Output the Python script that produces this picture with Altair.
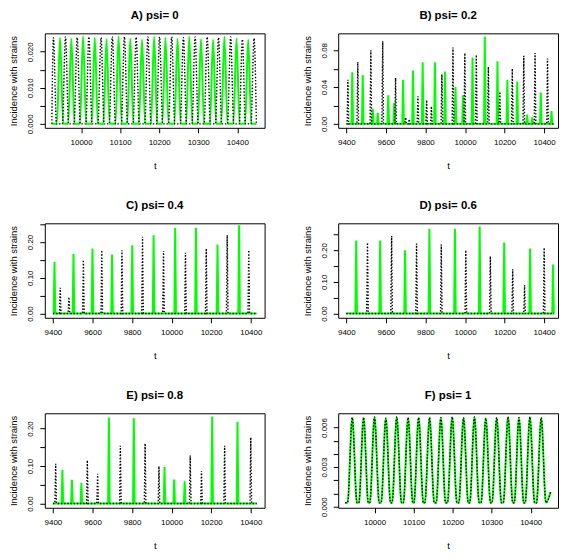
import altair as alt
import pandas as pd

# ---------------- data ----------------
# Panel A) psi = 0
A_range = [9925, 10449]
A_green_t = [9946, 9975, 10005, 10035, 10065, 10096, 10126, 10156, 10187, 10216,
             10247, 10277, 10307, 10338, 10367, 10398, 10428]
A_green_y = [0.0239, 0.0237, 0.0243, 0.0239, 0.0235, 0.0243, 0.0237, 0.0234, 0.0242, 0.0239,
             0.0236, 0.0242, 0.0235, 0.0234, 0.0242, 0.0237, 0.0234]
A_black_t = [9929, 9960, 9990, 10020, 10051, 10080, 10111, 10141, 10171, 10201,
             10232, 10262, 10292, 10323, 10352, 10383, 10413, 10443]
A_black_y = [0.0239, 0.0241, 0.0239, 0.0241, 0.0239, 0.0241, 0.0241, 0.0240, 0.0241, 0.0241,
             0.0241, 0.0239, 0.0241, 0.0241, 0.0239, 0.0241, 0.0234, 0.0237]

# Panel B) psi = 0.2
B_range = [9400, 10450]
B_green_t = [9430, 9483, 9534, 9559, 9612, 9642, 9687, 9737, 9786, 9848, 9899, 9952,
             9990, 10038, 10100, 10164, 10214, 10264, 10314, 10340, 10383, 10437]
B_green_y = [0.056, 0.053, 0.016, 0.012, 0.031, 0.023, 0.048, 0.058, 0.067, 0.067, 0.057, 0.040,
             0.031, 0.072, 0.095, 0.068, 0.048, 0.046, 0.010, 0.007, 0.034, 0.014]
B_black_t = [9408, 9458, 9524, 9584, 9649, 9700, 9718, 9762, 9806, 9830, 9883, 9939,
             9999, 10057, 10118, 10176, 10239, 10297, 10354, 10417]
B_black_y = [0.048, 0.067, 0.080, 0.090, 0.050, 0.007, 0.005, 0.030, 0.026, 0.019, 0.054, 0.083,
             0.077, 0.075, 0.062, 0.035, 0.060, 0.074, 0.077, 0.071]

# Panel C) psi = 0.4
C_range = [9400, 10430]
C_green_t = [9408, 9504, 9600, 9699, 9801, 9909, 10018, 10123, 10232, 10341]
C_green_y = [0.145, 0.167, 0.182, 0.165, 0.191, 0.219, 0.240, 0.240, 0.193, 0.247]
C_black_t = [9437, 9481, 9554, 9647, 9749, 9853, 9959, 10070, 10175, 10281, 10390]
C_black_y = [0.072, 0.046, 0.150, 0.177, 0.177, 0.215, 0.175, 0.170, 0.182, 0.219, 0.177]

# Panel D) psi = 0.6
D_range = [9400, 10450]
D_green_t = [9450, 9571, 9697, 9820, 9949, 10074, 10198, 10329, 10445]
D_green_y = [0.231, 0.231, 0.200, 0.268, 0.268, 0.275, 0.224, 0.205, 0.155]
D_black_t = [9507, 9629, 9755, 9880, 10004, 10128, 10241, 10301, 10400]
D_black_y = [0.224, 0.245, 0.221, 0.218, 0.200, 0.181, 0.140, 0.089, 0.208]

# Panel E) psi = 0.8
E_range = [9400, 10430]
E_green_t = [9448, 9496, 9544, 9683, 9809, 9964, 10013, 10066, 10205, 10333]
E_green_y = [0.090, 0.063, 0.055, 0.229, 0.227, 0.097, 0.064, 0.059, 0.232, 0.218]
E_black_t = [9414, 9574, 9626, 9741, 9866, 9936, 10094, 10151, 10268, 10400]
E_black_y = [0.106, 0.115, 0.079, 0.154, 0.160, 0.099, 0.128, 0.086, 0.154, 0.176]

# Panel F) psi = 1  (both strains coincide)
F_range = [9925, 10451]
F_end_y = [0.0003, 0.0011]
F_t = [9943, 9972, 10000, 10029, 10057, 10086, 10113, 10141, 10170, 10199,
       10228, 10256, 10285, 10313, 10342, 10370, 10398, 10427]
F_y = [0.00675, 0.00675, 0.0068, 0.0067, 0.0068, 0.00675, 0.00675, 0.00675, 0.00675, 0.0068,
       0.00675, 0.0068, 0.0067, 0.00675, 0.0068, 0.00675, 0.0068, 0.00675]

titles = ["A) psi= 0", "B) psi= 0.2", "C) psi= 0.4", "D) psi= 0.6", "E) psi= 0.8", "F) psi= 1"]
x_dom_short = [9907, 10470]
x_dom_long = [9359, 10470]
x_ticks_short = [10000, 10100, 10200, 10300, 10400]
x_ticks_long = [9400, 9600, 9800, 10000, 10200, 10400]

FONT = "Liberation Sans"
GREEN = "#00ff00"
W, H = 221, 95


def series(rng, ends, pk_t, pk_y, hw, base):
    pts = [(rng[0], ends[0])]
    for tp, yp in zip(pk_t, pk_y):
        pts += [(tp - hw, base), (tp, yp), (tp + hw, base)]
    pts.append((rng[1], ends[1]))
    pts = [p for p in pts if rng[0] <= p[0] <= rng[1]]
    pts.sort(key=lambda p: p[0])
    return pd.DataFrame(pts, columns=["t", "y"])


def panel(title, green, black, xdom, xticks, ydom, yticks, ystep, yfmt, interp):
    x = alt.X("t:Q", scale=alt.Scale(domain=xdom, nice=False, zero=False),
              axis=alt.Axis(values=xticks, format="d", title="t"))
    lab = ("abs(datum.value/%s - round(datum.value/%s)) < 1e-6 ? format(datum.value, '%s') : ''"
           % (ystep, ystep, yfmt))
    y = alt.Y("y:Q", scale=alt.Scale(domain=ydom, nice=False, zero=False),
              axis=alt.Axis(values=yticks, labelExpr=lab, title="Incidence with strains",
                            labelAngle=270, labelAlign="center", labelBaseline="bottom"))
    g = alt.Chart(green).mark_line(color=GREEN, strokeWidth=2, clip=True,
                                   interpolate=interp).encode(x=x, y=y)
    b = alt.Chart(black).mark_line(color="black", strokeWidth=1.4, strokeDash=[1.4, 1.8],
                                   clip=True, interpolate=interp).encode(x=x, y=y)
    return alt.layer(g, b).properties(
        width=W, height=H,
        title=alt.TitleParams(title, fontSize=11.5, fontWeight="bold", font=FONT,
                              frame="group", anchor="middle", offset=12))


pA = panel(titles[0],
           series(A_range, [0.0, 0.0], A_green_t, A_green_y, 8, 0.0),
           series(A_range, [0.0, 0.0], A_black_t, A_black_y, 8, 0.0),
           x_dom_short, x_ticks_short, [-0.0011, 0.0251],
           [0, 0.005, 0.01, 0.015, 0.02], 0.01, ".3f", "monotone")
pB = panel(titles[1],
           series(B_range, [0.0, 0.0], B_green_t, B_green_y, 4, 0.0),
           series(B_range, [0.0, 0.0], B_black_t, B_black_y, 4, 0.0),
           x_dom_long, x_ticks_long, [-0.0043, 0.0984],
           [0, 0.02, 0.04, 0.06, 0.08], 0.04, ".2f", "linear")
pC = panel(titles[2],
           series(C_range, [0.0, 0.0], C_green_t, C_green_y, 4, 0.0),
           series(C_range, [0.0, 0.0], C_black_t, C_black_y, 4, 0.0),
           x_dom_long, x_ticks_long, [-0.0121, 0.2523],
           [0, 0.05, 0.1, 0.15, 0.2, 0.25], 0.1, ".2f", "linear")
pD = panel(titles[3],
           series(D_range, [0.0, 0.0], D_green_t, D_green_y, 4, 0.0),
           series(D_range, [0.0, 0.0], D_black_t, D_black_y, 4, 0.0),
           x_dom_long, x_ticks_long, [-0.0135, 0.285],
           [0, 0.05, 0.1, 0.15, 0.2, 0.25], 0.1, ".2f", "linear")
pE = panel(titles[4],
           series(E_range, [0.0, 0.0], E_green_t, E_green_y, 4, 0.0),
           series(E_range, [0.0, 0.0], E_black_t, E_black_y, 4, 0.0),
           x_dom_long, x_ticks_long, [-0.0115, 0.2405],
           [0, 0.05, 0.1, 0.15, 0.2], 0.1, ".2f", "linear")
pF = panel(titles[5],
           series(F_range, F_end_y, F_t, F_y, 12, 0.0003),
           series(F_range, F_end_y, F_t, F_y, 12, 0.0003),
           x_dom_short, x_ticks_short, [-0.00008, 0.00708],
           [0, 0.001, 0.002, 0.003, 0.004, 0.005, 0.006], 0.003, ".3f", "monotone")

chart = alt.vconcat(
    alt.hconcat(pA, pB, spacing=36),
    alt.hconcat(pC, pD, spacing=36),
    alt.hconcat(pE, pF, spacing=36),
    spacing=29,
).properties(
    padding={"left": 0, "top": 0, "right": 0, "bottom": 0}
).configure(
    font=FONT
).configure_view(
    stroke="black", strokeWidth=1
).configure_axis(
    labelFont=FONT, titleFont=FONT, labelFontSize=8, titleFontSize=9.5,
    titleFontWeight="normal", labelColor="black", titleColor="black",
    tickColor="black", tickSize=5, tickWidth=1, domain=False, grid=False,
    labelOverlap=False, labelFlush=False,
).configure_axisX(
    labelPadding=6, titlePadding=14
).configure_axisY(
    labelPadding=5, titlePadding=8
)

chart.save("out.html", embed_options={"renderer": "svg", "actions": False})
